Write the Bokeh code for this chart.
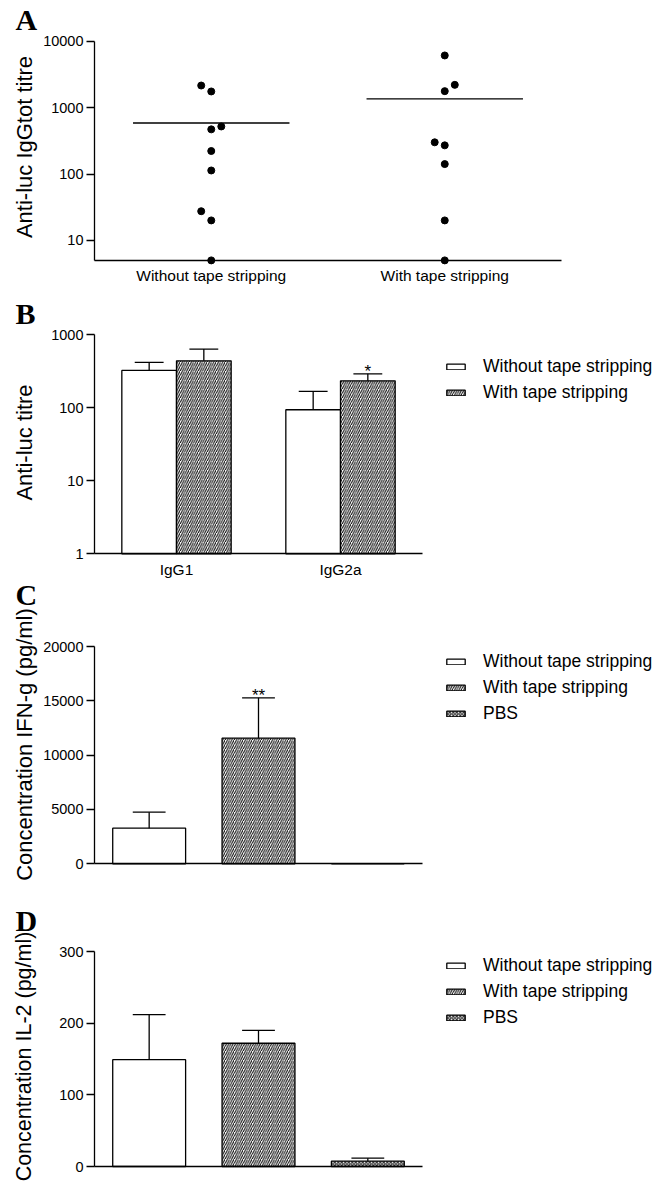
import numpy as np
from bokeh.plotting import figure
from bokeh.layouts import column
from bokeh.models import FixedTicker, Legend, LegendItem, Label, BasicTickFormatter
from bokeh.core.properties import value
from bokeh.embed import file_html
from bokeh.resources import INLINE

# ---------------- data ----------------
# Panel A: individual anti-luc IgGtot titres
a_groups = ["Without tape stripping", "With tape stripping"]
a_without = [2150, 1750, 520, 470, 222, 113, 27.5, 20, 5]
a_with = [6100, 2200, 1770, 300, 270, 141, 20, 5]
a_without_jitter = [-1, 0, 1, 0, 0, 0, -1, 0, 0]
a_with_jitter = [0, 1, 0, -1, 0, 0, 0, 0]
a_ticks = [10, 100, 1000, 10000]

# Panel B: IgG1 / IgG2a titres (mean, SEM)
b_isotypes = ["IgG1", "IgG2a"]
b_without_mean = [325, 94]
b_without_sem = [93, 74]
b_with_mean = [440, 234]
b_with_sem = [197, 58]
b_with_marks = ["", "*"]
b_ticks = [1, 10, 100, 1000]

# Panels C / D
series = ["Without tape stripping", "With tape stripping", "PBS"]
c_mean = [3280, 11560, 0]
c_sem = [1470, 3720, 0]
c_marks = ["", "**", ""]
c_ticks = [0, 5000, 10000, 15000, 20000]

d_mean = [149, 172, 7.4]
d_sem = [63, 18, 4.2]
d_marks = ["", "", ""]
d_ticks = [0, 100, 200, 300]

# ---------------- styles / layout constants ----------------
FONT = "Liberation Sans"
SERIF = "Liberation Serif"
W = 668
AXIS_X = 94          # pixel column of every y axis
LETTER_X = 15
YLAB_X = 23.5
STYLES = [
    dict(fill_color="white"),
    dict(fill_color="white", hatch_pattern="/", hatch_scale=4.5, hatch_weight=1, hatch_color="black"),
    dict(fill_color="white", hatch_pattern="x", hatch_scale=3.5, hatch_weight=1, hatch_color="black"),
]


def x_range_for(n, axis_len):
    unit = axis_len / n
    return (0.5 - AXIS_X / unit, 0.5 + (W - AXIS_X) / unit)


def y_range_lin(H, top_px, bot_px, lo, hi):
    per = (hi - lo) / (bot_px - top_px)
    return (lo - (H - bot_px) * per, hi + top_px * per)


def y_range_log(H, top_px, dec_px, hi_exp):
    return (10 ** (hi_exp - (H - top_px) / dec_px), 10 ** (hi_exp + top_px / dec_px))


def make_fig(H, xr, yr, y_type, x_fixed, y_bounds, x_bounds, y_ticks, x_ticks, x_labels):
    p = figure(width=W, height=H, x_range=xr, y_range=yr, y_axis_type=y_type, title=None,
               min_border=0, min_border_left=0, min_border_right=0, min_border_top=0,
               min_border_bottom=0, output_backend="svg", toolbar_location=None, tools="")
    p.outline_line_color = None
    p.grid.visible = False
    p.background_fill_color = "white"
    p.border_fill_color = "white"
    for ax in (p.xaxis[0], p.yaxis[0]):
        ax.axis_line_color = "black"
        ax.axis_line_width = 1.3
        ax.major_tick_line_color = "black"
        ax.major_tick_line_width = 1.3
        ax.minor_tick_line_color = None
        ax.major_label_text_font = FONT
        ax.major_label_text_color = "black"
    y = p.yaxis[0]
    y.fixed_location = 0.5
    y.bounds = y_bounds
    y.ticker = FixedTicker(ticks=y_ticks)
    y.formatter = BasicTickFormatter(use_scientific=False)
    y.major_tick_out = 8
    y.major_tick_in = 0
    y.major_label_standoff = 3
    y.major_label_text_font_size = "14.5px"
    x = p.xaxis[0]
    x.fixed_location = x_fixed
    x.bounds = x_bounds
    x.ticker = FixedTicker(ticks=x_ticks)
    if x_labels:
        x.major_label_overrides = {t: l for t, l in zip(x_ticks, x_labels)}
    x.major_tick_out = 0
    x.major_tick_in = 0
    x.major_tick_line_color = None
    x.major_label_standoff = 7
    x.major_label_text_font_size = "15.5px"
    return p


def add_letter(p, letter, y):
    p.add_layout(Label(x=LETTER_X, y=y, x_units="screen", y_units="screen", text=letter,
                       text_font=SERIF, text_font_style="bold", text_font_size="30px",
                       text_align="left", text_baseline="alphabetic", text_color="black"))


def add_ylabel(p, text, y, size="22px"):
    p.add_layout(Label(x=YLAB_X, y=y, x_units="screen", y_units="screen", text=text, angle=np.pi / 2,
                       text_font=FONT, text_font_size=size, text_align="center",
                       text_baseline="alphabetic", text_color="black"))


def add_legend(p, renderers, labels, x, y):
    leg = Legend(items=[LegendItem(label=l, renderers=[r]) for l, r in zip(labels, renderers)],
                 location=(x, y))
    leg.label_text_font = FONT
    leg.label_text_font_size = "17.5px"
    leg.label_text_color = "black"
    leg.glyph_width = 23
    leg.glyph_height = 7
    leg.label_standoff = 16
    leg.label_height = 20
    leg.spacing = 5
    leg.padding = 0
    leg.margin = 0
    leg.border_line_color = None
    leg.background_fill_alpha = 0
    p.add_layout(leg)


def error_bars(p, xs, means, sems, half):
    tops = [m + s for m, s in zip(means, sems)]
    p.segment(x0=xs, y0=means, x1=xs, y1=tops, line_color="black", line_width=1.3)
    p.segment(x0=[x - half for x in xs], y0=tops, x1=[x + half for x in xs], y1=tops,
              line_color="black", line_width=1.3)
    return tops


def marks(p, xs, tops, texts):
    p.text(x=xs, y=tops, text=texts, text_font=value(FONT), text_font_size="17px",
           text_align="center", text_baseline="alphabetic", y_offset=-2, text_color="black")


# ---------------- Panel A ----------------
HA = 290
pa = make_fig(HA, x_range_for(2, 467), y_range_log(HA, 40.7, 66.4, 4), "log",
              5, (5, 10000), (0.5, 2.5), a_ticks, [1, 2], a_groups)
jit = 0.043
for gi, (vals, jj) in enumerate([(a_without, a_without_jitter), (a_with, a_with_jitter)]):
    xc = gi + 1
    pa.scatter(x=[xc + j * jit for j in jj], y=vals, size=7, color="black")
    m = float(np.mean(vals))
    pa.segment(x0=[xc - 0.335], y0=[m], x1=[xc + 0.335], y1=[m], line_color="black", line_width=1.3)
add_letter(pa, "A", HA - 19)
add_ylabel(pa, "Anti-luc IgGtot titre", HA - 146.5)

# ---------------- Panel B ----------------
HB = 288
pb = make_fig(HB, x_range_for(2, 328), y_range_log(HB, 44.3, 73, 3), "log",
              1, (1, 1000), (0.5, 2.5), b_ticks, [1, 2], b_isotypes)
bx = [1, 2]
x_wo = [x - 1 / 6 for x in bx]
x_wi = [x + 1 / 6 for x in bx]
r1 = pb.vbar(x=x_wo, top=b_without_mean, bottom=1, width=1 / 3, line_color="black", line_width=1.3, **STYLES[0])
r2 = pb.vbar(x=x_wi, top=b_with_mean, bottom=1, width=1 / 3, line_color="black", line_width=1.3, **STYLES[1])
error_bars(pb, x_wo, b_without_mean, b_without_sem, 0.088)
t = error_bars(pb, x_wi, b_with_mean, b_with_sem, 0.088)
marks(pb, x_wi, t, b_with_marks)
add_legend(pb, [r1, r2], series[:2], 444, HB - 113)
add_letter(pb, "B", HB - 23)
add_ylabel(pb, "Anti-luc titre", HB - 152)


# ---------------- Panels C, D ----------------
def cyto_fig(H, top_px, bot_px, means, sems, ticks, mtexts, ylab, letter, letter_base, lab_c, leg_top, lsize):
    p = make_fig(H, x_range_for(3, 328), y_range_lin(H, top_px, bot_px, ticks[0], ticks[-1]), "linear",
                 0, (ticks[0], ticks[-1]), (0.5, 3.5), ticks, [], None)
    xs = [1, 2, 3]
    rs = []
    for i in range(3):
        rs.append(p.vbar(x=[xs[i]], top=[means[i]], bottom=0, width=2 / 3, line_color="black",
                         line_width=1.3, **STYLES[i]))
    vis = [i for i in range(3) if means[i] > 0]
    tops = error_bars(p, [xs[i] for i in vis], [means[i] for i in vis], [sems[i] for i in vis], 0.15)
    marks(p, [xs[i] for i in vis], tops, [mtexts[i] for i in vis])
    add_legend(p, rs, series, 444, H - (leg_top + 70))
    add_letter(p, letter, H - letter_base)
    add_ylabel(p, ylab, H - lab_c, lsize)
    return p


HC = 302
pc = cyto_fig(HC, 68, 285.3, c_mean, c_sem, c_ticks, c_marks, "Concentration IFN-g (pg/ml)", "C",
              16, 166, 75.7, "22px")
HD = 306
pd_ = cyto_fig(HD, 71, 286, d_mean, d_sem, d_ticks, d_marks, "Concentration IL-2 (pg/ml)", "D",
               40, 176, 78, "21.5px")

layout = column(pa, pb, pc, pd_, spacing=0)
open("out.html", "w").write(file_html(layout, INLINE))
